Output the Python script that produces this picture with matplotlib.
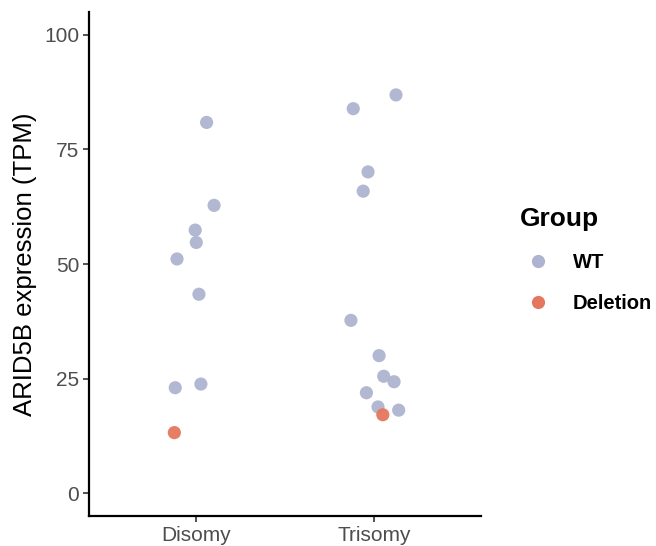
import matplotlib
matplotlib.use("Agg")
import matplotlib.pyplot as plt
from matplotlib.lines import Line2D
import numpy as np

plt.rcParams["font.family"] = ["Liberation Sans", "DejaVu Sans"]

categories = ["Disomy", "Trisomy"]

# WT samples: category index, jitter offset, TPM value
wt_cat = [0, 0, 0, 0, 0, 0, 0, 0,
          1, 1, 1, 1, 1, 1, 1, 1, 1, 1, 1]
wt_jitter = [0.060, 0.102, -0.004, 0.002, -0.106, 0.017, -0.116, 0.028,
             0.123, -0.117, -0.034, -0.061, -0.130, 0.028, 0.054, 0.112, -0.043, 0.022, 0.138]
wt_tpm = [80.9, 62.8, 57.4, 54.7, 51.1, 43.4, 23.0, 23.8,
          86.9, 83.9, 70.1, 65.9, 37.7, 30.0, 25.5, 24.3, 21.9, 18.8, 18.1]

del_cat = [0, 1]
del_jitter = [-0.121, 0.049]
del_tpm = [13.2, 17.1]

WT_COLOR = "#AEB4CF"
DEL_COLOR = "#E5775E"

fig = plt.figure(figsize=(6.56, 5.46), dpi=100)
ax = fig.add_axes([89 / 656, 30 / 546, (481 - 89) / 656, (534 - 30) / 546])

ax.scatter(np.array(wt_cat) + 1 + np.array(wt_jitter), wt_tpm,
           s=90, color=WT_COLOR, alpha=0.95, edgecolors="none", zorder=3)
ax.scatter(np.array(del_cat) + 1 + np.array(del_jitter), del_tpm,
           s=90, color=DEL_COLOR, alpha=0.95, edgecolors="none", zorder=4)

ax.set_xlim(0.4, 2.6)
ax.set_ylim(-5, 105)
ax.set_xticks([1, 2])
ax.set_xticklabels(categories)
ax.set_yticks([0, 25, 50, 75, 100])
ax.set_ylabel("ARID5B expression (TPM)", fontsize=18.5, color="black", labelpad=5)

for s in ["top", "right"]:
    ax.spines[s].set_visible(False)
for s in ["left", "bottom"]:
    ax.spines[s].set_linewidth(1.6)
    ax.spines[s].set_color("black")
ax.tick_params(axis="both", length=4, width=1.2, color="#333333",
               labelsize=15, labelcolor="#4D4D4D", pad=3)

handles = [
    Line2D([], [], marker="o", linestyle="none", markersize=9.5,
           markerfacecolor=WT_COLOR, markeredgecolor="none", label="WT"),
    Line2D([], [], marker="o", linestyle="none", markersize=9.5,
           markerfacecolor=DEL_COLOR, markeredgecolor="none", label="Deletion"),
]
leg = fig.legend(handles=handles, title="Group", loc="upper left",
                 bbox_to_anchor=(502 / 656, 1 - 189 / 546), frameon=False,
                 prop={"weight": "bold", "size": 14.5},
                 title_fontproperties={"weight": "bold", "size": 19},
                 alignment="left", labelspacing=1.1, handletextpad=0.8,
                 handlelength=1.8)

fig.savefig("out.png", dpi=100)
